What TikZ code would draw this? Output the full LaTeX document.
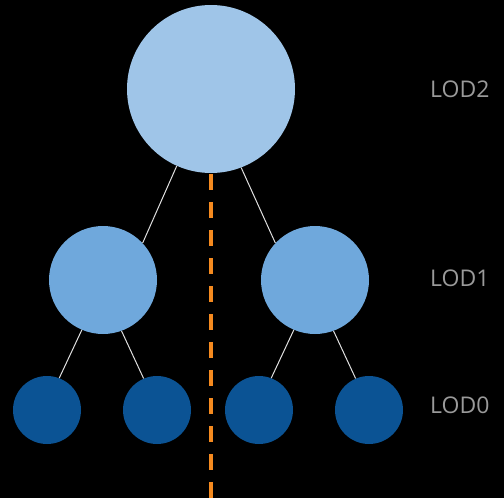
\documentclass[tikz,border=0pt]{standalone}
\usepackage{fontspec}
\setmainfont{Open Sans}
\definecolor{lodtwo}{HTML}{9FC5E8}
\definecolor{lodone}{HTML}{6FA8DC}
\definecolor{lodzero}{HTML}{0B5394}
\definecolor{dashorange}{HTML}{F58A1F}
\definecolor{labelgray}{HTML}{9A9A9A}
\begin{document}
\begin{tikzpicture}[x=1pt,y=-1pt,
  bignode/.style={circle,fill=lodtwo,minimum size=168pt,inner sep=0pt},
  midnode/.style={circle,fill=lodone,minimum size=108pt,inner sep=0pt},
  leafnode/.style={circle,fill=lodzero,minimum size=68pt,inner sep=0pt},
  link/.style={draw=white!88!black,line width=1pt},
  lodlabel/.style={text=labelgray,font=\fontsize{23}{26}\selectfont,anchor=west,inner sep=0pt}]
\fill[black] (0,0) rectangle (504,498);
\useasboundingbox (0,0) rectangle (504,498);
\node[bignode] (top) at (211,89) {};
\node[midnode] (l1) at (103,280) {};
\node[midnode] (r1) at (315,280) {};
\node[leafnode] (a) at (47,410) {};
\node[leafnode] (b) at (157,410) {};
\node[leafnode] (c) at (259,410) {};
\node[leafnode] (d) at (369,410) {};
\coordinate (dtop) at (211,174);
\coordinate (dbot) at (211,498);
\draw[dashorange,line width=4pt,dash pattern=on 16pt off 12pt] (dtop) -- (dbot);
\draw[link] (top.246) -- (l1.43);
\draw[link] (top.291) -- (r1.137);
\draw[link] (l1.247) -- (a.69);
\draw[link] (l1.290) -- (b.113);
\draw[link] (r1.247) -- (c.69);
\draw[link] (r1.290) -- (d.113);
\node[lodlabel] (t2) at (430,89) {LOD2};
\node[lodlabel] (t1) at (430,278) {LOD1};
\node[lodlabel] (t0) at (430,405) {LOD0};
\end{tikzpicture}
\end{document}
